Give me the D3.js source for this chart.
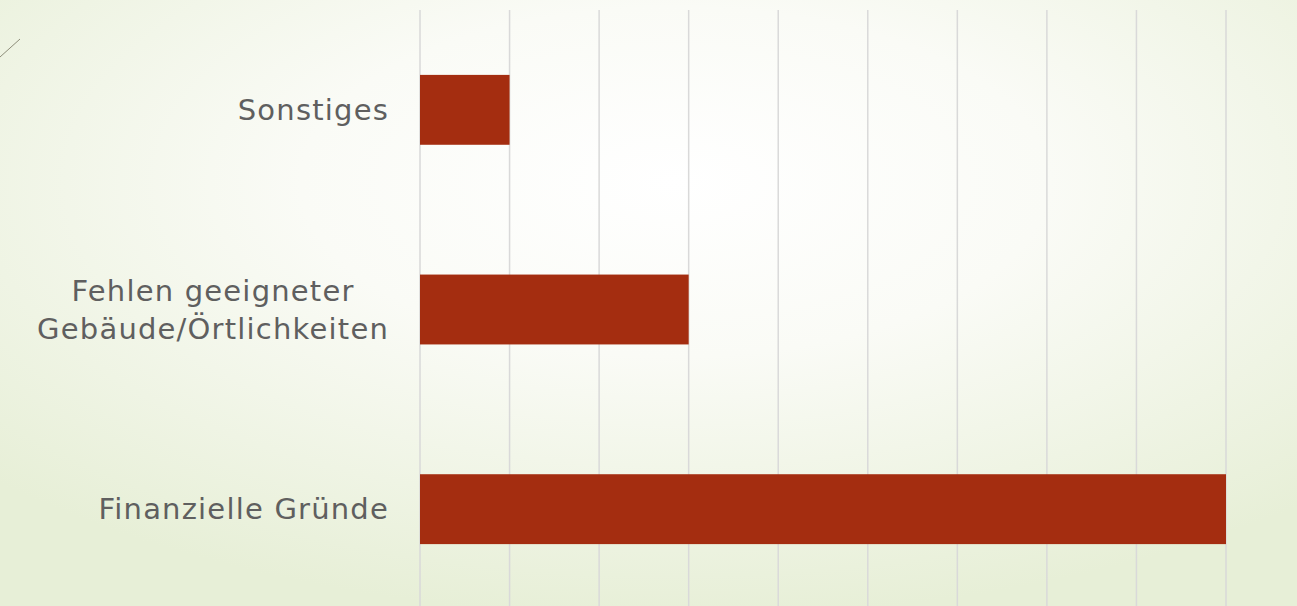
<!DOCTYPE html>
<html>
<head>
<meta charset="utf-8">
<script src="https://cdn.jsdelivr.net/npm/d3@7"></script>
<style>
  html, body { margin: 0; padding: 0; overflow: hidden; }
  body { width: 1297px; height: 606px; }
</style>
</head>
<body>
<script>
// chart data
const categories = ["Sonstiges", "Fehlen geeigneter\nGebäude/Örtlichkeiten", "Finanzielle Gründe"];
const values = [1, 3, 9];
const tickValues = [0, 1, 2, 3, 4, 5, 6, 7, 8, 9];

const width = 1297;
const height = 606;
const margin = { left: 420, right: 71, top: 10, bottom: -3 };

const svg = d3
  .select("body")
  .append("svg")
  .attr("width", width)
  .attr("height", height);

// background: soft green with a white glow in the middle
const defs = svg.append("defs");
const grad = defs
  .append("radialGradient")
  .attr("id", "bg")
  .attr("cx", "52%")
  .attr("cy", "30%")
  .attr("r", "72%");
grad.append("stop").attr("offset", "0%").attr("stop-color", "#ffffff");
grad.append("stop").attr("offset", "40%").attr("stop-color", "#fafbf6");
grad.append("stop").attr("offset", "100%").attr("stop-color", "#e7efd7");

svg
  .append("rect")
  .attr("width", width)
  .attr("height", height)
  .attr("fill", "url(#bg)");

// small decorative stroke top-left
svg
  .append("line")
  .attr("x1", 0)
  .attr("y1", 57)
  .attr("x2", 20)
  .attr("y2", 39)
  .attr("stroke", "#8d8c78")
  .attr("stroke-width", 1);

const x = d3
  .scaleLinear()
  .domain([0, 9])
  .range([margin.left, width - margin.right]);

const y = d3
  .scaleBand()
  .domain(categories)
  .range([margin.top, height - margin.bottom])
  .paddingInner(0.65)
  .paddingOuter(0.325);

// vertical gridlines
svg
  .append("g")
  .selectAll("line")
  .data(tickValues)
  .enter()
  .append("line")
  .attr("x1", (d) => x(d))
  .attr("x2", (d) => x(d))
  .attr("y1", margin.top)
  .attr("y2", height)
  .attr("stroke", "#d9d9d9")
  .attr("stroke-width", 1.5);

// bars
svg
  .append("g")
  .selectAll("rect")
  .data(categories)
  .enter()
  .append("rect")
  .attr("x", x(0))
  .attr("y", (d) => y(d))
  .attr("width", (d, i) => x(values[i]) - x(0))
  .attr("height", y.bandwidth())
  .attr("fill", "#a42d10");

// category labels (multi-line labels are centred on their widest line)
const lineHeight = 38;
const labelRight = x(0) - 31;
const labels = svg
  .append("g")
  .selectAll("text")
  .data(categories)
  .enter()
  .append("text")
  .attr("font-family", "'DejaVu Sans', sans-serif")
  .attr("font-size", "29px")
  .attr("letter-spacing", "1.2px")
  .attr("fill", "#5f5f5f");

labels.each(function (d) {
  const lines = d.split("\n");
  const cy = y(d) + y.bandwidth() / 2;
  const t = d3.select(this);
  const spans = lines.map((ln, j) =>
    t
      .append("tspan")
      .attr("y", cy + (j - (lines.length - 1) / 2) * lineHeight)
      .attr("dy", "0.35em")
      .text(ln)
  );
  if (lines.length === 1) {
    t.attr("text-anchor", "end");
    spans[0].attr("x", labelRight);
  } else {
    const widest = d3.max(spans, (s) => s.node().getComputedTextLength());
    t.attr("text-anchor", "middle");
    spans.forEach((s) => s.attr("x", labelRight - widest / 2));
  }
});
</script>
</body>
</html>
